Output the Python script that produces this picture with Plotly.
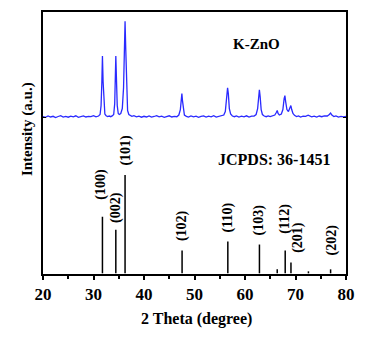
import plotly.graph_objects as go

# ---------- data ----------
# measured K-ZnO pattern (2theta, intensity above its own baseline, a.u.)
kzno_2theta = [20.0, 20.5, 21.0, 21.5, 22.0, 22.5, 23.0, 23.5, 24.0, 24.5, 25.0, 25.5, 26.0, 26.5, 27.0,
               27.5, 28.0, 28.5, 29.0, 29.5, 30.0, 30.5, 31.0, 31.3, 31.5, 31.65, 31.77, 31.9, 32.05,
               32.25, 32.5, 32.8, 33.1, 33.4, 33.7, 34.0, 34.2, 34.32, 34.42, 34.55, 34.7, 34.9, 35.1,
               35.4, 35.7, 35.95, 36.15, 36.25, 36.38, 36.55, 36.75, 37.0, 37.3, 37.6, 38.0, 38.5, 39.0,
               39.5, 40.0, 40.5, 41.0, 41.5, 42.0, 42.5, 43.0, 43.5, 44.0, 44.5, 45.0, 45.5, 46.0, 46.5,
               46.9, 47.2, 47.38, 47.5, 47.62, 47.8, 48.0, 48.4, 48.8, 49.3, 49.8, 50.3, 50.8, 51.3, 51.8,
               52.3, 52.8, 53.3, 53.8, 54.3, 54.8, 55.3, 55.8, 56.1, 56.35, 56.55, 56.7, 56.9, 57.15, 57.5,
               57.9, 58.3, 58.8, 59.3, 59.8, 60.3, 60.8, 61.3, 61.8, 62.2, 62.5, 62.72, 62.85, 63.0, 63.2,
               63.45, 63.8, 64.2, 64.6, 65.0, 65.5, 65.9, 66.2, 66.38, 66.55, 66.8, 67.2, 67.5, 67.75, 67.9,
               68.05, 68.3, 68.6, 68.9, 69.08, 69.25, 69.5, 69.8, 70.2, 70.6, 71.0, 71.5, 72.0, 72.5, 72.8,
               73.2, 73.7, 74.2, 74.7, 75.2, 75.7, 76.3, 76.7, 76.95, 77.2, 77.6, 78.0, 78.5, 79.0, 79.5, 80.0]
kzno_intensity = [1.0, 0.2, 1.5, 0.5, 1.2, 0.0, 1.0, 1.8, 0.4, 1.1, 0.3, 1.4, 0.6, 1.7, 0.2,
                  1.0, 1.6, 0.5, 1.2, 0.8, 1.9, 0.7, 1.5, 3.0, 12, 35, 62, 36, 12,
                  3.5, 1.8, 1.0, 1.5, 0.8, 1.6, 3.0, 14, 40, 62, 38, 12, 4.0, 3.0,
                  4.0, 9.0, 30, 75, 97, 70, 25, 7.0, 3.0, 2.0, 1.2, 1.8, 0.6, 1.4,
                  0.3, 1.2, 0.5, 1.6, 0.4, 1.0, 1.9, 0.6, 1.3, 0.2, 1.1, 1.7, 0.5, 1.2, 0.8,
                  2.5, 8.0, 19, 24, 17, 6.0, 2.5, 1.2, 0.4, 1.5, 0.6, 1.3, 0.2, 1.2, 1.7,
                  0.5, 1.4, 0.7, 1.8, 0.4, 1.1, 1.5, 2.5, 6.0, 17, 30, 24, 9.0, 3.5, 1.5,
                  0.8, 1.6, 0.5, 1.3, 0.6, 1.7, 0.4, 1.4, 1.5, 3.0, 9.0, 22, 28, 21, 8.0,
                  3.0, 1.5, 0.8, 1.6, 0.9, 1.8, 2.5, 5.0, 7.0, 4.0, 2.5, 3.5, 8.0, 19, 22,
                  16, 8.0, 6.0, 10, 12, 8.0, 4.0, 2.2, 1.0, 1.6, 0.5, 1.3, 1.1, 2.3, 1.2,
                  0.6, 1.4, 0.5, 1.5, 0.8, 1.7, 1.5, 3.0, 4.5, 2.5, 1.0, 1.6, 0.4, 1.2, 0.6, 1.0]

# JCPDS 36-1451 reference lines
ref_2theta = [31.77, 34.42, 36.25, 47.54, 56.60, 62.86, 66.38, 67.96, 69.10, 72.56, 76.95]
ref_intensity = [57, 44, 99, 23, 32, 29, 4, 23, 11, 2, 4]
ref_hkl = ["(100)", "(002)", "(101)", "(102)", "(110)", "(103)", "", "(112)", "(201)", "", "(202)"]

x_ticks = [20, 30, 40, 50, 60, 70, 80]

# ---------- styling / layout helpers ----------
panel_offset = 157          # vertical offset of the measured pattern
label_gap = [15, 5, 7, 7, 7, 7, 0, 15, 8, 0, 12]
label_dx = [-1, 0, 0, 0, 0, 0, 0, 0, 7, 0, 1]
FONT = "Times New Roman, Liberation Serif, serif"

fig = go.Figure()

fig.add_trace(go.Scatter(
    x=kzno_2theta, y=[v + panel_offset for v in kzno_intensity],
    mode="lines", line=dict(color="#2a2aff", width=1.3), showlegend=False, hoverinfo="skip"))

sx, sy = [], []
for t, i in zip(ref_2theta, ref_intensity):
    sx += [t, t, None]
    sy += [0, i, None]
fig.add_trace(go.Scatter(x=sx, y=sy, mode="lines",
                         line=dict(color="black", width=1.5), showlegend=False, hoverinfo="skip"))

for t, i, lab, g, dx in zip(ref_2theta, ref_intensity, ref_hkl, label_gap, label_dx):
    if not lab:
        continue
    fig.add_annotation(x=t, y=i, text=lab, textangle=-90, showarrow=False,
                       xanchor="center", yanchor="bottom", yshift=g, xshift=dx,
                       font=dict(family=FONT, size=14, color="black", weight="bold"))

def paper_text(x, y, text, size, angle=0):
    fig.add_annotation(xref="paper", yref="paper", x=x, y=y, text=text, showarrow=False,
                       xanchor="center", yanchor="middle", textangle=angle,
                       font=dict(family=FONT, size=size, color="black", weight="bold"))

paper_text(0.703, 0.876, "K-ZnO", 15)
paper_text(0.762, 0.438, "JCPDS: 36-1451", 16)
paper_text(0.505, -0.172, "2 Theta (degree)", 16)
paper_text(-0.053, 0.553, "Intensity (a.u.)", 15, -90)

fig.update_xaxes(range=[20, 80], tickvals=x_ticks, ticks="outside", ticklen=4, tickwidth=1.5,
                 tickcolor="black", showline=True, linecolor="black", linewidth=2, mirror=True,
                 showgrid=False, zeroline=False,
                 minor=dict(dtick=5, tick0=20, ticks="outside", ticklen=3, tickwidth=1.5, tickcolor="black"),
                 tickfont=dict(family=FONT, size=17, color="black", weight="bold"))
fig.update_yaxes(range=[-0.7, 263.3], tickvals=[panel_offset], ticks="inside", ticklen=3,
                 tickcolor="black", showticklabels=False, showline=True, linecolor="black",
                 linewidth=2, mirror="ticks", showgrid=False, zeroline=False)

# page body adds an 8px margin, so the figure is sized to fit the 373x337 window
fig.update_layout(width=365, height=329, margin=dict(l=35, r=27, t=2, b=63),
                  plot_bgcolor="white", paper_bgcolor="white")

fig.write_html("out.html")
